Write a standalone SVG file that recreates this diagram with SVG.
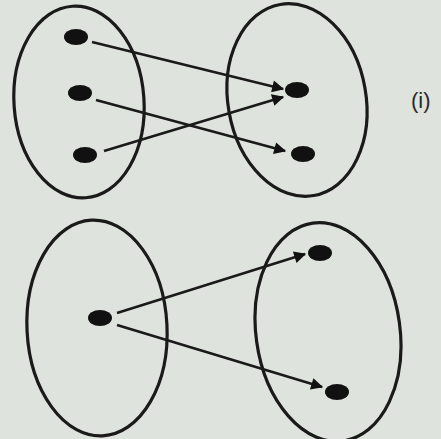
<svg xmlns="http://www.w3.org/2000/svg" width="441" height="439" viewBox="0 0 441 439">
<style>
.set{fill:none;stroke:#1a1a1a;stroke-width:3.2}
.pt{fill:#111}
.arr{stroke:#1a1a1a;stroke-width:2.6;fill:none;marker-end:url(#ah)}
text{font-family:"Liberation Sans",Arial,sans-serif;font-size:22px;fill:#2a2a2a}
</style>
<defs>
<marker id="ah" viewBox="0 0 10 10" refX="9" refY="5" markerWidth="19" markerHeight="12" orient="auto" markerUnits="userSpaceOnUse">
<path d="M0,0 L10,5 L0,10 z" fill="#111"/>
</marker>
</defs>
<rect width="441" height="439" fill="#dfe3dd"/>
<g id="setA1"><ellipse class="set" cx="79" cy="102" rx="65" ry="96" transform="rotate(-4 79 102)"/>
<ellipse class="pt" cx="76" cy="37" rx="12" ry="8"/>
<ellipse class="pt" cx="80" cy="93" rx="12" ry="8"/>
<ellipse class="pt" cx="85" cy="155" rx="12" ry="8"/></g>
<g id="setB1"><ellipse class="set" cx="297" cy="100" rx="69" ry="97" transform="rotate(-10 297 100)"/>
<ellipse class="pt" cx="297" cy="90" rx="12" ry="8"/>
<ellipse class="pt" cx="303" cy="154" rx="12" ry="8"/></g>
<g id="setA2"><ellipse class="set" cx="97" cy="328" rx="70" ry="108" transform="rotate(-3 97 328)"/>
<ellipse class="pt" cx="100" cy="318" rx="12" ry="8"/></g>
<g id="setB2"><ellipse class="set" cx="328" cy="332" rx="72" ry="110" transform="rotate(-8 328 332)"/>
<ellipse class="pt" cx="320" cy="253" rx="12" ry="8"/>
<ellipse class="pt" cx="337" cy="392" rx="12" ry="8"/></g>
<g id="label"><text x="411" y="108">(i)</text></g>
<g id="connectors">
<line class="arr" x1="92" y1="42" x2="283" y2="89"/>
<line class="arr" x1="96" y1="100" x2="285" y2="151"/>
<line class="arr" x1="104" y1="151" x2="283" y2="97"/>
<line class="arr" x1="117" y1="313" x2="305" y2="254"/>
<line class="arr" x1="117" y1="325" x2="322" y2="387"/>
</g>
</svg>
